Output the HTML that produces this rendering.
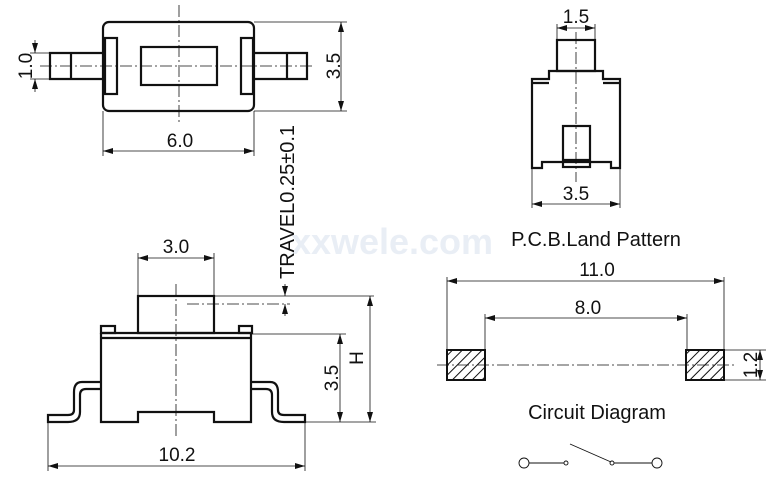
<!DOCTYPE html>
<html><head><meta charset="utf-8"><style>
html,body{margin:0;padding:0;background:#fff;}
svg{display:block;}
text{font-family:"Liberation Sans",sans-serif;fill:#111;}
</style></head><body>
<svg width="781" height="484" viewBox="0 0 781 484" xmlns="http://www.w3.org/2000/svg">
<defs>
<marker id="a" viewBox="0 0 10 6" refX="10" refY="3" markerWidth="10" markerHeight="6" orient="auto-start-reverse" markerUnits="userSpaceOnUse"><path d="M0,0 L10,3 L0,6 z" fill="#111"/></marker>
<pattern id="h" width="7" height="7" patternUnits="userSpaceOnUse" patternTransform="rotate(45)"><rect width="7" height="7" fill="#fff"/><line x1="0" y1="0" x2="0" y2="7" stroke="#111" stroke-width="2"/></pattern>
</defs>
<text x="392" y="254" font-size="36" font-weight="bold" style="fill:#e9eef5" text-anchor="middle">xxwele.com</text>
<g fill="none" stroke="#111">
<g stroke-width="2.2">
<rect x="103" y="22" width="151" height="89" rx="6"/>
<rect x="105" y="38" width="12" height="56"/>
<rect x="241" y="38" width="12" height="56"/>
<rect x="141" y="47" width="76" height="38"/>
<path d="M103,53 H50 V79 H103 M71,53 V79"/>
<path d="M254,53 H307 V79 H254 M287,53 V79"/>
</g>
<g stroke-width="0.8" stroke-dasharray="12,3,2,3">
<line x1="40" y1="66" x2="315" y2="66"/>
<line x1="179" y1="5" x2="179" y2="122"/>
</g>
<g stroke-width="0.8">
<path d="M30,53 H50 M30,79 H50"/>
<line x1="35" y1="40" x2="35" y2="53" marker-end="url(#a)"/>
<line x1="35" y1="92" x2="35" y2="79" marker-end="url(#a)"/>
<path d="M254,22 H347 M254,111 H347"/>
<line x1="341" y1="22" x2="341" y2="111" marker-start="url(#a)" marker-end="url(#a)"/>
<path d="M103,111 V156 M254,111 V156"/>
<line x1="103" y1="151" x2="254" y2="151" marker-start="url(#a)" marker-end="url(#a)"/>
</g>
<g stroke-width="2.2">
<rect x="138" y="296" width="76" height="37"/>
<rect x="101" y="326" width="14" height="7"/>
<rect x="239" y="326" width="13" height="7"/>
<path d="M101,333 H252 M101,338 H252"/>
<path d="M101,333 V422 H138 V412 H214 V422 H251 V333"/>
<path d="M101,382 H82 Q74,382 74,392 V410 Q74,415 68,415 H48 V422 H68 Q80,422 80,412 V395 Q80,389 86,389 H101"/>
<path d="M251,382 H270 Q278,382 278,392 V410 Q278,415 284,415 H305 V422 H284 Q272,422 272,412 V395 Q272,389 266,389 H251"/>
</g>
<g stroke-width="0.8" stroke-dasharray="12,3,2,3">
<line x1="176" y1="284" x2="176" y2="437"/>
<line x1="187" y1="304" x2="290" y2="304"/>
</g>
<g stroke-width="0.8">
<path d="M138,296 V253 M214,296 V253"/>
<line x1="138" y1="258" x2="214" y2="258" marker-start="url(#a)" marker-end="url(#a)"/>
<path d="M214,296 H374 M252,334 H346 M305,422 H376"/>
<line x1="285" y1="284" x2="285" y2="296" marker-end="url(#a)"/>
<line x1="285" y1="316" x2="285" y2="304" marker-end="url(#a)"/>
<line x1="340" y1="334" x2="340" y2="422" marker-start="url(#a)" marker-end="url(#a)"/>
<line x1="370" y1="296" x2="370" y2="422" marker-start="url(#a)" marker-end="url(#a)"/>
<path d="M48,422 V471 M305,422 V471"/>
<line x1="48" y1="466" x2="305" y2="466" marker-start="url(#a)" marker-end="url(#a)"/>
</g>
<g stroke-width="2.2">
<rect x="557" y="40" width="38" height="31"/>
<path d="M549,71 H603 V79 H620 V168 H611 V162 H542 V168 H532 V79 H549 Z"/>
<path d="M532,83 H549 M603,83 H620"/>
<rect x="563" y="126" width="27" height="41"/>
<line x1="563" y1="160" x2="590" y2="160"/>
</g>
<line x1="576" y1="32" x2="576" y2="182" stroke-width="0.8" stroke-dasharray="12,3,2,3"/>
<g stroke-width="0.8">
<path d="M557,40 V24 M595,40 V24"/>
<line x1="557" y1="28" x2="595" y2="28" marker-start="url(#a)" marker-end="url(#a)"/>
<path d="M532,168 V208 M620,168 V208"/>
<line x1="532" y1="204" x2="620" y2="204" marker-start="url(#a)" marker-end="url(#a)"/>
</g>
<rect x="447" y="350" width="38" height="30" fill="url(#h)" stroke-width="2"/>
<rect x="686" y="350" width="38" height="30" fill="url(#h)" stroke-width="2"/>
<line x1="437" y1="365" x2="735" y2="365" stroke-width="0.8" stroke-dasharray="12,3,2,3"/>
<g stroke-width="0.8">
<path d="M447,350 V277 M724,350 V277 M485,350 V314 M687,350 V314"/>
<line x1="447" y1="281" x2="724" y2="281" marker-start="url(#a)" marker-end="url(#a)"/>
<line x1="485" y1="318" x2="687" y2="318" marker-start="url(#a)" marker-end="url(#a)"/>
<path d="M724,350 H766 M724,380 H766"/>
<line x1="760" y1="350" x2="760" y2="380" marker-start="url(#a)" marker-end="url(#a)"/>
</g>
<g stroke-width="0.9">
<circle cx="524" cy="463" r="5"/>
<line x1="529" y1="463" x2="564" y2="463"/>
<circle cx="566" cy="463" r="2"/>
<line x1="570" y1="444" x2="611" y2="462"/>
<circle cx="612" cy="463" r="2"/>
<line x1="614" y1="463" x2="652" y2="463"/>
<circle cx="657" cy="463" r="5"/>
</g>
</g>
<g font-size="19">
<text x="180" y="147" text-anchor="middle">6.0</text>
<text transform="translate(32,66) rotate(-90)" text-anchor="middle">1.0</text>
<text transform="translate(340,66) rotate(-90)" text-anchor="middle">3.5</text>
<text transform="translate(294,202) rotate(-90)" text-anchor="middle" font-size="20">TRAVEL0.25±0.1</text>
<text x="176" y="253" text-anchor="middle">3.0</text>
<text transform="translate(338,378) rotate(-90)" text-anchor="middle">3.5</text>
<text transform="translate(363,358) rotate(-90)" text-anchor="middle">H</text>
<text x="177" y="461" text-anchor="middle">10.2</text>
<text x="576" y="23" text-anchor="middle">1.5</text>
<text x="576" y="200" text-anchor="middle">3.5</text>
<text x="596" y="246" text-anchor="middle" font-size="20">P.C.B.Land Pattern</text>
<text x="597" y="276" text-anchor="middle">11.0</text>
<text x="588" y="314" text-anchor="middle">8.0</text>
<text transform="translate(757,365) rotate(-90)" text-anchor="middle">1.2</text>
<text x="597" y="419" text-anchor="middle" font-size="20">Circuit Diagram</text>
</g>
</svg>
</body></html>
